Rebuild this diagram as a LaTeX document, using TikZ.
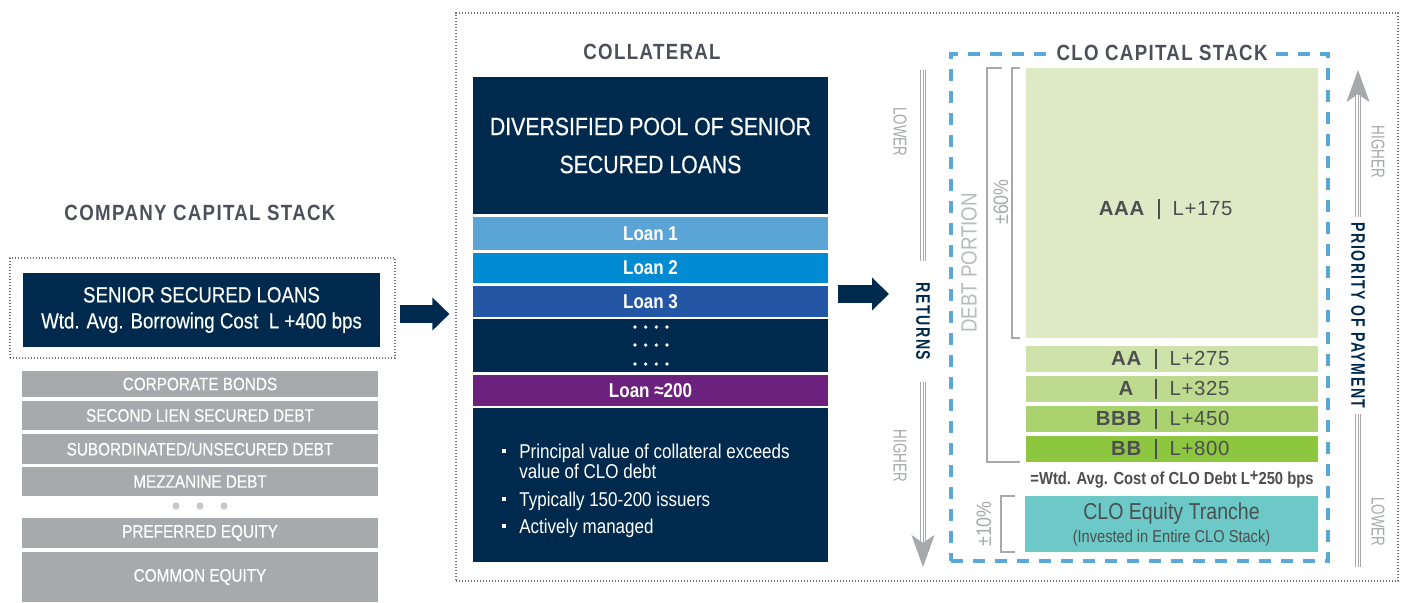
\documentclass[tikz,border=0pt]{standalone}
\usepackage{fontspec}
\setmainfont{Liberation Sans}[FakeStretch=0.85]
\newfontfamily\medfont{Liberation Sans}[FakeStretch=0.85, FakeBold=0.4]
\newfontfamily\headfont{Liberation Sans}[FakeStretch=0.85, LetterSpace=6]
\newfontfamily\sidefont{Liberation Sans}[FakeStretch=0.72, LetterSpace=8]
\newfontfamily\narrowfont{Liberation Sans}[FakeStretch=0.72]
\newfontfamily\ratefont{Liberation Sans}[LetterSpace=3]
\usetikzlibrary{arrows.meta}

\definecolor{navy}{HTML}{002A4D}
\definecolor{headgray}{HTML}{4D5058}
\definecolor{bargray}{HTML}{A7A9AC}
\definecolor{dotgray}{HTML}{C8C9CB}
\definecolor{framegray}{HTML}{707276}
\definecolor{sidegray}{HTML}{A6A8AB}
\definecolor{debtgray}{HTML}{B8BABC}
\definecolor{ratetext}{HTML}{4D4E50}
\definecolor{loanA}{HTML}{5AA5D6}
\definecolor{loanB}{HTML}{008BD2}
\definecolor{loanC}{HTML}{2357A6}
\definecolor{loanD}{HTML}{6B217D}
\definecolor{gA}{HTML}{DDEAC5}
\definecolor{gB}{HTML}{CEE3AA}
\definecolor{gC}{HTML}{BDDA8E}
\definecolor{gD}{HTML}{AAD26F}
\definecolor{gE}{HTML}{8DC63F}
\definecolor{equity}{HTML}{6CC9C7}
\definecolor{clo}{HTML}{5AA7DA}

\newcommand\rate[2]{\makebox[0pt][r]{\bfseries #1\hspace{7pt}}\rule[-2pt]{0.7pt}{10pt}\makebox[0pt][l]{\hspace{6.5pt}L+#2}}
\newcommand\sqbul{\llap{\rule[2.5pt]{2pt}{2pt}\hspace{6.5pt}}}

\tikzset{
  frame/.style={draw=framegray, line width=0.6pt, dash pattern=on 0.6pt off 0.9pt, inner sep=0pt},
  band/.style={inner sep=0pt, text=white, align=center},
  lbar/.style={band, fill=bargray, minimum width=178pt, font=\medfont\fontsize{9}{11}\selectfont},
  cbar/.style={band, minimum width=177.5pt, font=\fontsize{10}{12}\selectfont\bfseries},
  note/.style={anchor=base west, inner sep=0pt, text=white, font=\fontsize{10}{12}\selectfont},
  tranche/.style={inner sep=0pt, minimum width=146pt, minimum height=13pt},
  rating/.style={inner sep=0pt, text=ratetext, font=\ratefont\fontsize{10.2}{12}\selectfont},
  heading/.style={text=headgray, font=\headfont\bfseries\fontsize{11}{13}\selectfont},
  side/.style={rotate=-90, text=sidegray, font=\narrowfont\fontsize{9.3}{11}\selectfont},
  sidebold/.style={rotate=-90, text=navy, font=\sidefont\bfseries\fontsize{9.8}{11}\selectfont},
  upright/.style={rotate=90, text=bargray, font=\fontsize{10.5}{12}\selectfont},
  triple/.style={draw=sidegray, line width=2.6pt, postaction={draw=white, line width=1.9pt}, postaction={draw=sidegray, line width=0.35pt}},
  headtip/.style={draw=sidegray, line width=0.4pt, -{Stealth[length=16pt, width=11.5pt, inset=4pt]}},
  bracket/.style={draw=bargray, line width=1pt},
  blockarrow/.style={draw=navy, line width=9pt, -{Triangle[length=8.5pt, width=16pt]}},
}

\begin{document}
\begin{tikzpicture}[x=0.5pt, y=-0.5pt]
\useasboundingbox[fill=white] (0,0) rectangle (1402,602);

% company capital stack
\node[heading] (comptitle) at (200,213) {COMPANY CAPITAL STACK};
\node[frame, minimum width=192.5pt, minimum height=50pt] (leftframe) at (202.5,308) {};
\node[band, fill=navy, minimum width=178.5pt, minimum height=37pt, font=\medfont\fontsize{11}{13}\selectfont] (senior) at (201.5,310) {SENIOR SECURED LOANS\\Wtd. Avg. Borrowing Cost\ \ L +400 bps};
\node[lbar, minimum height=13pt] (bonds) at (200,384) {CORPORATE BONDS};
\node[lbar, minimum height=14.5pt] (lien) at (200,415.5) {SECOND LIEN SECURED DEBT};
\node[lbar, minimum height=15pt] (subord) at (200,449) {SUBORDINATED/UNSECURED DEBT};
\node[lbar, minimum height=14.5pt] (mezz) at (200,481.5) {MEZZANINE DEBT};
\foreach \x in {176,200,224} \fill[dotgray] (\x,506) circle (1.8pt);
\node[lbar, minimum height=15pt] (pref) at (200,533) {PREFERRED EQUITY};
\node[lbar, minimum height=25pt] (common) at (200,577) {COMMON EQUITY};

% collateral
\node[frame, minimum width=471pt, minimum height=284pt] (midframe) at (927,297) {};
\node[heading] (colltitle) at (652,52) {COLLATERAL};
\node[band, fill=navy, minimum width=177.5pt, minimum height=68.5pt, font=\medfont\fontsize{12.5}{19}\selectfont] (pool) at (650.5,145.5) {DIVERSIFIED POOL OF SENIOR\\SECURED LOANS};
\node[cbar, fill=loanA, minimum height=16.5pt] (loan1) at (650.5,233.5) {Loan 1};
\node[cbar, fill=loanB, minimum height=15pt] (loan2) at (650.5,268) {Loan 2};
\node[cbar, fill=loanC, minimum height=15.5pt] (loan3) at (650.5,301.5) {Loan 3};
\node[cbar, fill=navy, minimum height=26.5pt] (more) at (650.5,345.5) {};
\foreach \y in {327,345,364}
  \foreach \x in {635,645.7,656.3,667} \fill[white] (\x,\y) circle (0.9pt);
\node[cbar, fill=loanD, minimum height=15.5pt] (loanN) at (650.5,390.5) {Loan ≈200};
\node[cbar, fill=navy, minimum height=77pt] (notes) at (650.5,485) {};
\node[note] (note1) at (519,458) {\sqbul Principal value of collateral exceeds};
\node[note] (note1b) at (519,478) {value of CLO debt};
\node[note] (note2) at (519,506) {\sqbul Typically 150-200 issuers};
\node[note] (note3) at (519,533) {\sqbul Actively managed};

% arrows
\coordinate (a1s) at ([xshift=2pt,yshift=-3pt]leftframe.east);
\path (a1s -| midframe.west) ++(-3pt,0) coordinate (a1e);
\draw[blockarrow] (a1s) -- (a1e);
\coordinate (a2s) at (838,294);
\coordinate (a2e) at (889,294);
\draw[blockarrow] (a2s) -- (a2e);

% clo capital stack
\node[draw=clo, line width=2pt, dash pattern=on 6pt off 5pt, inner sep=0pt, minimum width=188.5pt, minimum height=253.5pt] (cloframe) at (1139.5,307.5) {};
\node[heading, fill=white, inner xsep=3.5pt] (clotitle) at (1162,53) {CLO CAPITAL STACK};
\node[tranche, fill=gA, minimum height=135pt] (aaa) at (1172,203) {};
\node[tranche, fill=gB] (aa) at (1172,359) {};
\node[tranche, fill=gC] (arat) at (1172,389) {};
\node[tranche, fill=gD] (bbb) at (1172,419) {};
\node[tranche, fill=gE] (bb) at (1172,449) {};
\node[rating] (aaalab) at (1159,209) {\rate{AAA}{175}};
\node[rating] (aalab) at (1156,359) {\rate{AA}{275}};
\node[rating] (alab) at (1156,389) {\rate{A\hspace{4pt}}{325}};
\node[rating] (bbblab) at (1156,419) {\rate{BBB}{450}};
\node[rating] (bblab) at (1156,449) {\rate{BB}{800}};
\node[text=ratetext, font=\fontsize{8.7}{10}\selectfont\bfseries] (cost) at (1172,480) {=Wtd. Avg. Cost of CLO Debt L\raisebox{1.6pt}{+}250 bps};
\node[tranche, fill=equity, minimum width=146.5pt, minimum height=28pt, text=ratetext, align=center, font=\fontsize{11.5}{11.5}\selectfont] (equitybox) at (1171.5,524) {CLO Equity Tranche\\{\fontsize{8.6}{11.5}\selectfont (Invested in Entire CLO Stack)}};

% brackets
\draw[bracket] ([xshift=-3pt]aaa.north west) -- ++(-4pt,0) |- ([xshift=-3pt]aaa.south west);
\draw[bracket] ([xshift=-12pt]aaa.north west) -- ++(-7.5pt,0) |- ([xshift=-3pt]bb.south west);
\draw[bracket] ([xshift=-5pt]equitybox.north west) -- ++(-7pt,0) |- ([xshift=-5pt]equitybox.south west);
\node[upright] (p60) at (1001,202) {±60\%};
\node[upright, text=debtgray, font=\fontsize{11}{13}\selectfont] (debt) at (969,263) {DEBT PORTION};
\node[upright] (p10) at (984,524) {±10\%};

% returns
\node[side] (lowL) at (900,132) {LOWER};
\node[side] (highL) at (900,456) {HIGHER};
\node[sidebold, inner xsep=10.5pt] (returns) at (923,321.5) {RETURNS};
\coordinate (rtop) at (923,70);
\coordinate (rbase) at (923,545);
\coordinate (rtip) at (923,567);
\draw[triple] (rtop) -- (returns.west);
\draw[triple] (returns.east) -- (rbase);
\draw[headtip] (923,535) -- (rtip);

% priority of payment
\node[side] (highR) at (1378,152) {HIGHER};
\node[side] (lowR) at (1378,522) {LOWER};
\node[sidebold, inner xsep=2.5pt] (priority) at (1358,315.5) {PRIORITY OF PAYMENT};
\coordinate (ptip) at (1358,70);
\coordinate (pbase) at (1358,96);
\coordinate (pbot) at (1358,567);
\draw[triple] (priority.west) -- (pbase);
\draw[triple] (priority.east) -- (pbot);
\draw[headtip] (1358,102) -- (ptip);
\end{tikzpicture}
\end{document}
